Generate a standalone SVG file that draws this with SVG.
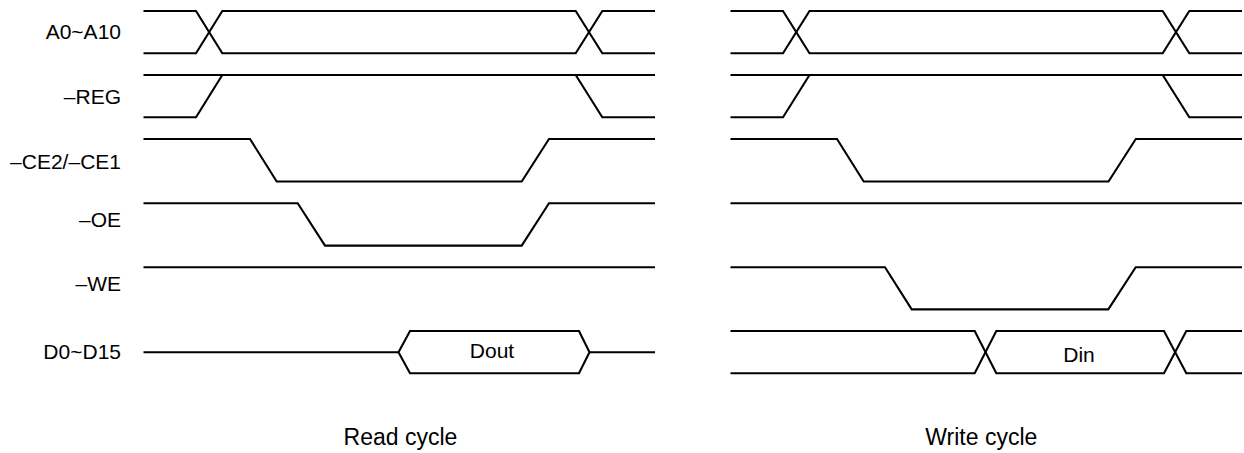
<svg xmlns="http://www.w3.org/2000/svg" width="1244" height="453" viewBox="0 0 1244 453">
<style>
.w{fill:none;stroke:#000;stroke-width:2.1;stroke-linejoin:miter}
.lbl{font-family:"Liberation Sans",Arial,sans-serif;font-size:21px;fill:#000;text-anchor:end}
.val{font-family:"Liberation Sans",Arial,sans-serif;font-size:21px;fill:#000;text-anchor:middle}
.ttl{font-family:"Liberation Sans",Arial,sans-serif;font-size:23px;fill:#000;text-anchor:end}
</style>
<rect width="1244" height="453" fill="#fff"/>
<g id="labels">
<text class="lbl" x="121" y="39.3">A0~A10</text>
<text class="lbl" x="121" y="104">–REG</text>
<text class="lbl" x="121" y="169">–CE2/–CE1</text>
<text class="lbl" x="121" y="227.3">–OE</text>
<text class="lbl" x="121" y="291">–WE</text>
<text class="lbl" x="121" y="359">D0~D15</text>
</g>
<g id="read-cycle">
<g id="read-addr">
<path class="w" d="M143.5,11 H196 L222.3,53.3 H575.7 L602.3,11 H655"/>
<path class="w" d="M143.5,53.3 H196 L222.3,11 H575.7 L602.3,53.3 H655"/>
</g>
<g id="read-reg">
<path class="w" d="M143.5,75 H655"/>
<path class="w" d="M143.5,117.3 H196 L222.3,75"/>
<path class="w" d="M575.7,75 L602.3,117.3 H655"/>
</g>
<g id="read-ce">
<path class="w" d="M143.5,139 H250 L276.7,181.5 H521.7 L549,139 H655"/>
</g>
<g id="read-oe">
<path class="w" d="M143.5,203.3 H297.7 L325,245.6 H521.7 L549,203.3 H655"/>
</g>
<g id="read-we">
<path class="w" d="M143.5,267.3 H655"/>
</g>
<g id="read-data">
<path class="w" d="M143.5,352.3 H398.5 M589.5,352.3 H655"/>
<path class="w" d="M398.5,352.3 L410,331 H579 L589.5,352.3 L579,373.3 H410 Z"/>
<text class="val" x="492" y="357.5">Dout</text>
</g>
<text class="ttl" x="457.3" y="445">Read cycle</text>
</g>
<g id="write-cycle">
<g id="write-addr">
<path class="w" d="M730.5,11 H783 L809.5,53.3 H1162.7 L1189.3,11 H1242"/>
<path class="w" d="M730.5,53.3 H783 L809.5,11 H1162.7 L1189.3,53.3 H1242"/>
</g>
<g id="write-reg">
<path class="w" d="M730.5,75 H1242"/>
<path class="w" d="M730.5,117.3 H783 L809.5,75"/>
<path class="w" d="M1162.7,75 L1189.3,117.3 H1242"/>
</g>
<g id="write-ce">
<path class="w" d="M730.5,139 H837 L863.7,181.5 H1108.5 L1135.8,139 H1242"/>
</g>
<g id="write-oe">
<path class="w" d="M730.5,203.3 H1242"/>
</g>
<g id="write-we">
<path class="w" d="M730.5,267.3 H885 L911.7,309.4 H1108.3 L1135.7,267.3 H1242"/>
</g>
<g id="write-data">
<path class="w" d="M730.5,331 H974.7 L996.3,373.3 H1164 L1186.3,331 H1242"/>
<path class="w" d="M730.5,373.3 H974.7 L996.3,331 H1164 L1186.3,373.3 H1242"/>
<text class="val" x="1079" y="361.7">Din</text>
</g>
<text class="ttl" x="1037.3" y="445">Write cycle</text>
</g>
</svg>
